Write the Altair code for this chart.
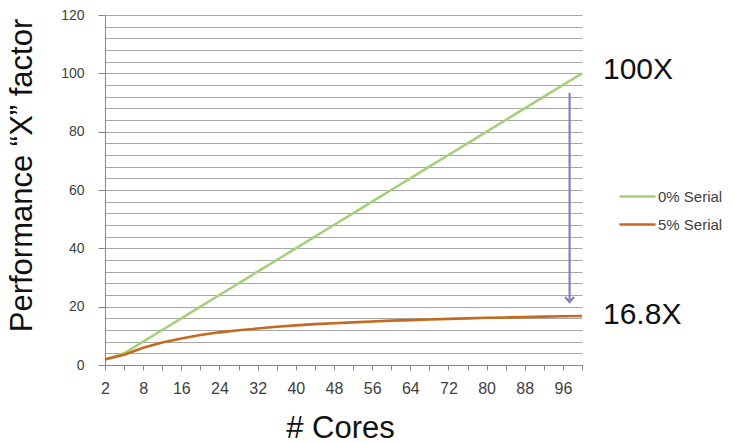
import altair as alt
import pandas as pd

# ---- data ----
cores = [2, 4, 8, 12, 16, 20, 24, 28, 32, 36, 40, 44, 48, 52, 56, 60, 64, 68, 72, 76, 80, 84, 88, 92, 96, 100]
serial_0 = [2, 4, 8, 12, 16, 20, 24, 28, 32, 36, 40, 44, 48, 52, 56, 60, 64, 68, 72, 76, 80, 84, 88, 92, 96, 100]
serial_5 = [1.9, 3.5, 5.9, 7.7, 9.1, 10.3, 11.2, 11.9, 12.5, 13.1, 13.6, 14.0, 14.3, 14.6, 14.9, 15.2,
            15.4, 15.6, 15.8, 16.0, 16.2, 16.3, 16.4, 16.6, 16.7, 16.8]
x_labels = ["2", "", "8", "", "16", "", "24", "", "32", "", "40", "", "48", "", "56", "", "64", "",
            "72", "", "80", "", "88", "", "96", ""]
series_names = ["0% Serial", "5% Serial"]
series_colors = ["#A5D07A", "#C4691E"]

# annotations
ann_text = ["100X", "16.8X"]
ann_value = [101, 17]

rows = []
for i, c in enumerate(cores):
    rows.append({"idx": i, "cores": c, "series": series_names[0], "value": serial_0[i]})
    rows.append({"idx": i, "cores": c, "series": series_names[1], "value": serial_5[i]})
df = pd.DataFrame(rows)

n = len(cores)
label_expr = "[" + ",".join("'" + s + "'" for s in x_labels) + "][datum.value]"

FONT = "Liberation Sans"

x_scale = alt.Scale(domain=[0, n - 1], nice=False, zero=False)
y_scale = alt.Scale(domain=[0, 120], nice=False)

lines = alt.Chart(df).mark_line(strokeWidth=2.6, clip=False).encode(
    x=alt.X("idx:Q", scale=x_scale,
            axis=alt.Axis(values=list(range(n)), tickCount=200, labelExpr=label_expr, title="# Cores",
                          grid=False, tickSize=5, tickColor="#868686", domainColor="#868686",
                          labelFont=FONT, labelFontSize=16, labelColor="#404040",
                          labelPadding=10, labelFlush=False, labelOverlap=False,
                          titleFont=FONT, titleFontSize=31, titleFontWeight="normal",
                          titleColor="#111111", titleX=235, titleY=72,
                          titleBaseline="alphabetic")),
    y=alt.Y("value:Q", scale=y_scale,
            axis=alt.Axis(values=list(range(0, 121, 4)), tickCount=200, format="d",
                          labelExpr="datum.value % 20 === 0 ? '' + datum.value : ''",
                          labelOverlap=False, labelFlush=False,
                          grid=True, gridColor="#A6A6A6", gridWidth=1,
                          tickSize=7,
                          tickColor={"condition": {"test": "datum.value % 20 === 0", "value": "#868686"},
                                     "value": "transparent"},
                          domainColor="#868686",
                          labelFont=FONT, labelFontSize=14, labelColor="#404040", labelPadding=14,
                          title="Performance “X” factor",
                          titleFont=FONT, titleFontSize=31, titleFontWeight="normal",
                          titleColor="#111111", titleAngle=-90, titleX=-74, titleY=160,
                          titleAlign="center", titleBaseline="alphabetic")),
    color=alt.Color("series:N",
                    scale=alt.Scale(domain=series_names, range=series_colors),
                    legend=alt.Legend(title=None, orient="none", legendX=513, legendY=162,
                                      symbolType="stroke", symbolStrokeWidth=2.6, symbolSize=1300,
                                      labelFont=FONT, labelFontSize=15, labelColor="#404040",
                                      rowPadding=-1, labelOffset=1)),
    order=alt.Order("series:N", sort="ascending"),
)

ann_df = pd.DataFrame({"idx": [26.1, 26.1], "value": ann_value, "t": ann_text})
texts = alt.Chart(ann_df).mark_text(align="left", baseline="middle", font=FONT,
                                    fontSize=30, color="#111111").encode(
    x=alt.X("idx:Q", scale=x_scale), y=alt.Y("value:Q", scale=y_scale), text="t:N")

arrow_df = pd.DataFrame({"idx": [24.35], "y1": [93.3], "y2": [21.6]})
arrow_line = alt.Chart(arrow_df).mark_rule(color="#8580C4", strokeWidth=2.2).encode(
    x=alt.X("idx:Q", scale=x_scale), y=alt.Y("y1:Q", scale=y_scale), y2="y2:Q")
arrow_head = alt.Chart(arrow_df).mark_point(shape="M-1,-1.1L0,0L1,-1.1", size=80, filled=False,
                                            strokeWidth=2.2, color="#8580C4", opacity=1).encode(
    x=alt.X("idx:Q", scale=x_scale), y=alt.Y("y2:Q", scale=y_scale))

chart = alt.layer(lines, arrow_line, arrow_head, texts).properties(
    width=477, height=350,
    padding={"left": 105, "top": 15, "right": 153, "bottom": 78},
    autosize=alt.AutoSizeParams(type="none"),
    background="white",
).configure_view(stroke=None)

chart.save("out.html", embed_options={"renderer": "svg", "actions": False})
